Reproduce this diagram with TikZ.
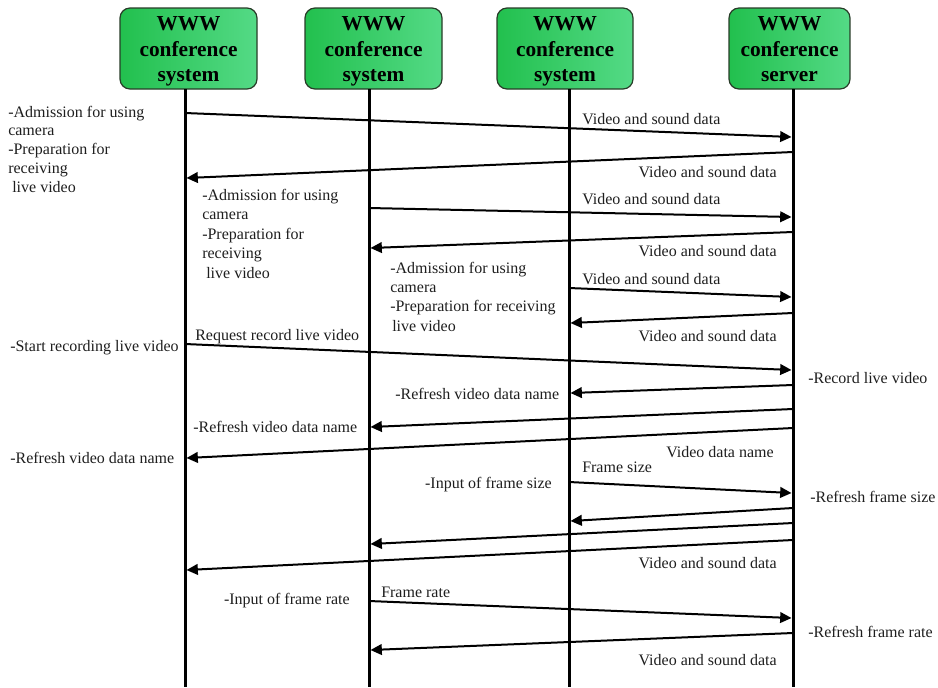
\documentclass[tikz,border=0pt]{standalone}
\usepackage{fontspec}
\setmainfont{Liberation Serif}
\usetikzlibrary{arrows.meta}
\definecolor{boxL}{RGB}{34,192,78}
\definecolor{boxR}{RGB}{84,218,134}
\definecolor{boxD}{RGB}{40,60,40}
\definecolor{txt}{RGB}{30,30,30}
\newcommand{\topstrut}{\rule{0pt}{15pt}}
\begin{document}
\begin{tikzpicture}[x=0.75pt,y=-0.75pt,
  hdr/.style={draw=boxD, line width=0.9pt, rounded corners=7.5pt,
    left color=boxL, right color=boxR, minimum height=60.75pt,
    align=center, inner sep=0pt,
    font=\bfseries\fontsize{16pt}{19pt}\selectfont},
  life/.style={line width=2.25pt},
  msg/.style={line width=1.5pt, -{Triangle[length=8.5pt,width=8pt]}},
  lbl/.style={inner sep=0pt, anchor=mid west, text=txt, yshift=-1.5pt,
    font=\fontsize{12pt}{14pt}\selectfont},
  lblr/.style={lbl, anchor=mid east}]
\useasboundingbox (0,0) rectangle (938,687);

% header boxes
\node[hdr, minimum width=102.75pt] (b1) at (188.5,48.5) {\topstrut WWW\\conference\\system};
\node[hdr, minimum width=102.75pt] (b2) at (373.5,48.5) {\topstrut WWW\\conference\\system};
\node[hdr, minimum width=102pt] (b3) at (565,48.5) {\topstrut WWW\\conference\\system};
\node[hdr, minimum width=90.75pt] (b4) at (789.5,48.5) {\topstrut WWW\\conference\\server\vphantom{y}};

% lifelines
\foreach \i/\x in {1/185,2/369,3/569,4/793}{
  \coordinate (top\i) at (\x,89);
  \coordinate (bot\i) at (\x,687);
  \draw[life] (top\i) -- (bot\i);
}

% messages
\foreach \i/\xa/\ya/\xb/\yb in {
  1/185/113/791.5/137,
  2/793/152/186.5/178,
  3/369/208/791.5/217,
  4/793/232/370.5/248,
  5/569/288/791.5/297,
  6/793/313/570.5/323,
  7/185/344/791.5/370,
  8/793/385/570.5/393,
  9/793/409/370.5/427,
  10/793/428/186.5/458,
  11/569/482/791.5/493,
  12/793/508/570.5/521,
  13/793/523/370.5/544,
  14/793/540/186.5/570,
  15/369/601/791.5/618,
  16/793/633/370.5/650}{
  \coordinate (s\i) at (\xa,\ya);
  \coordinate (t\i) at (\xb,\yb);
  \draw[msg] (s\i) -- (t\i);
}

% block A
\node[lbl] (a1) at (8,112) {-Admission for using};
\node[lbl] (a2) at (8,130.5) {camera};
\node[lbl] (a3) at (8,149) {-Preparation for};
\node[lbl] (a4) at (8,168) {receiving};
\node[lbl] (a5) at (12,187) {live video};
% block B
\node[lbl] (c1) at (202,195) {-Admission for using};
\node[lbl] (c2) at (202,214.5) {camera};
\node[lbl] (c3) at (202,234) {-Preparation for};
\node[lbl] (c4) at (202,253.5) {receiving};
\node[lbl] (c5) at (206,273) {live video};
% block C
\node[lbl] (d1) at (390,268) {-Admission for using};
\node[lbl] (d2) at (390,287) {camera};
\node[lbl] (d3) at (390,306.5) {-Preparation for receiving};
\node[lbl] (d4) at (392,326) {live video};

% message labels
\node[lbl]  (v1)  at (582,119) {Video and sound data};
\node[lblr] (v2)  at (777,172) {Video and sound data};
\node[lbl]  (v3)  at (582,199) {Video and sound data};
\node[lblr] (v4)  at (777,251) {Video and sound data};
\node[lbl]  (v5)  at (582,279) {Video and sound data};
\node[lblr] (v6)  at (777,336) {Video and sound data};
\node[lbl]  (e1)  at (10,346) {-Start recording live video};
\node[lbl]  (e2)  at (195,335) {Request record live video};
\node[lbl]  (e3)  at (808,378) {-Record live video};
\node[lbl]  (r1)  at (395,394) {-Refresh video data name};
\node[lbl]  (r2)  at (193,427) {-Refresh video data name};
\node[lbl]  (r3)  at (10,458) {-Refresh video data name};
\node[lblr] (vn)  at (774,452) {Video data name};
\node[lbl]  (fs)  at (582,467) {Frame size};
\node[lblr] (ifs) at (552,483) {-Input of frame size};
\node[lbl]  (rfs) at (810,497) {-Refresh frame size};
\node[lblr] (v7)  at (777,563) {Video and sound data};
\node[lblr] (ifr) at (350,599) {-Input of frame rate};
\node[lbl]  (fr)  at (381,592) {Frame rate};
\node[lbl]  (rfr) at (808,632) {-Refresh frame rate};
\node[lblr] (v8)  at (777,660) {Video and sound data};
\end{tikzpicture}
\end{document}
